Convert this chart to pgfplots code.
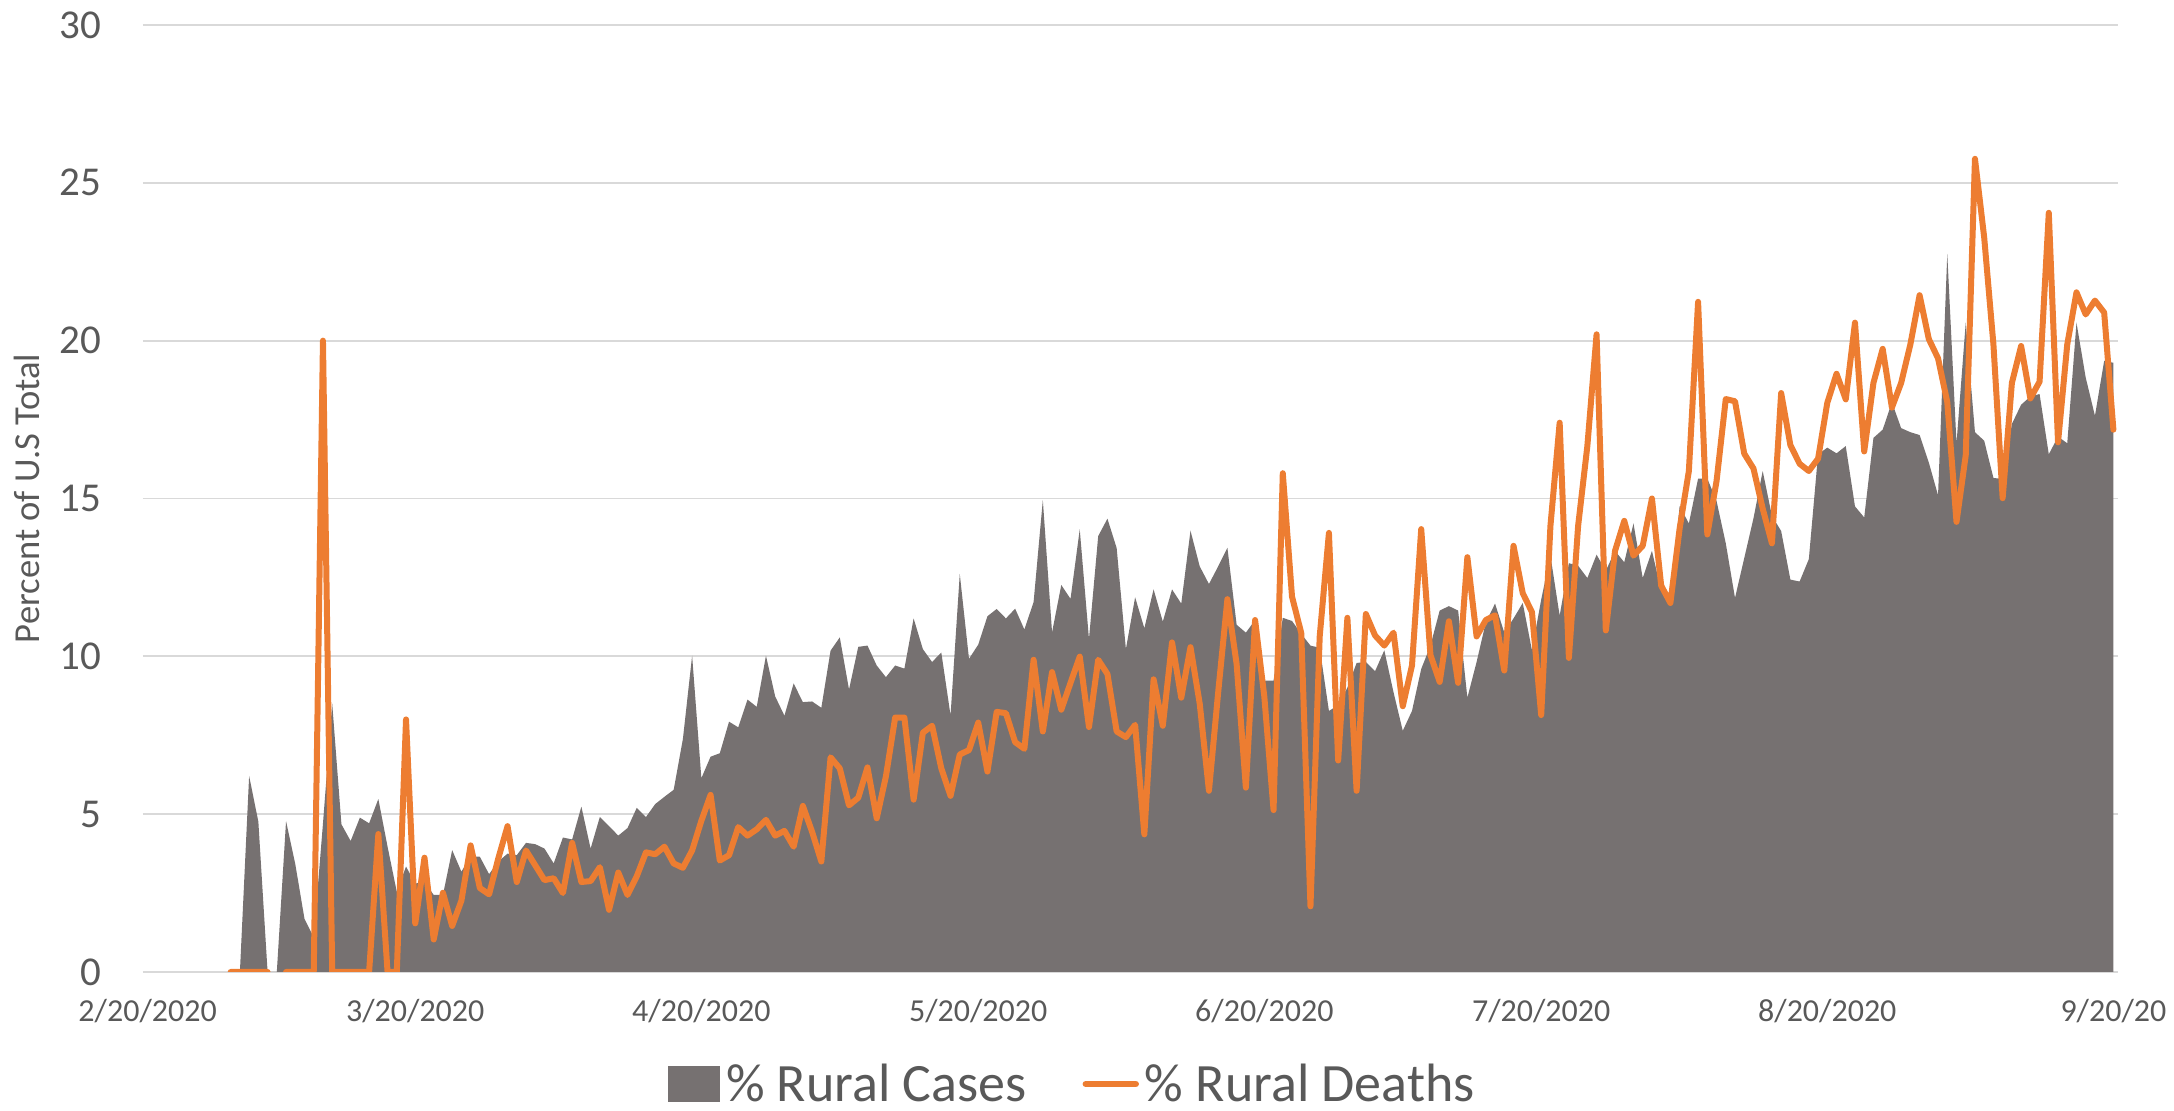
\documentclass[border=0pt]{standalone}
\usepackage{fontspec}
\setmainfont{Carlito}
\usepackage{pgfplots}
\pgfplotsset{compat=1.18}
\usetikzlibrary{calc}
\definecolor{areagray}{HTML}{767171}
\definecolor{deathorange}{HTML}{ED7D31}
\definecolor{gridgray}{HTML}{D9D9D9}
\definecolor{txtgray}{HTML}{595959}
\begin{document}
\begin{tikzpicture}
\begin{axis}[
 name=ax,
 scale only axis,
 width=987.5pt, height=473.5pt,
 xmin=-0.5, xmax=213.5, ymin=0, ymax=30,
 xtick={0,29,60,90,121,151,182,213},
 xticklabels={2/20/2020,3/20/2020,4/20/2020,5/20/2020,6/20/2020,7/20/2020,8/20/2020,9/20/20},
 ytick={0,5,...,30},
 ymajorgrids, grid style={gridgray, line width=0.9pt},
 axis line style={draw=none},
 major tick length=0pt,
 tick label style={text=txtgray},
 xticklabel style={font=\fontsize{16}{18}\selectfont, yshift=-10pt},
 yticklabel style={font=\fontsize{20.5}{24}\selectfont, xshift=-17.5pt},
 /pgf/number format/assume math mode=true,
 ylabel={Percent of U.S Total},
 every axis y label/.style={at={(axis description cs:0,0.5)}, rotate=90, anchor=center, yshift=58pt, font=\fontsize{18.3}{20}\selectfont, text=txtgray},
 unbounded coords=jump,
 legend columns=2,
 legend style={draw=none, fill=none, at={(axis description cs:0.4716,0)}, anchor=center, yshift=-56pt, font=\fontsize{27}{30}\selectfont, text=txtgray, nodes={inner sep=1pt, inner xsep=3pt}, /tikz/every even column/.append style={column sep=25pt}},
]
\addplot[fill=areagray, draw=none, legend image code/.code={\fill[areagray] (0pt,-9pt) rectangle (26pt,9pt);}] table {
x y
10 0
11 6.21
12 4.76
13 0
14 0
15 4.78
16 3.42
17 1.68
18 1.10
19 4.7
20 8.51
21 4.68
22 4.15
23 4.89
24 4.71
25 5.48
26 3.97
27 2.54
28 3.34
29 2.80
30 2.86
31 2.44
32 2.44
33 3.86
34 3.18
35 3.67
36 3.65
37 3.10
38 3.50
39 3.75
40 3.70
41 4.09
42 4.05
43 3.91
44 3.44
45 4.26
46 4.20
47 5.24
48 3.91
49 4.91
50 4.62
51 4.32
52 4.56
53 5.20
54 4.91
55 5.32
56 5.55
57 5.77
58 7.38
59 10.02
60 6.14
61 6.82
62 6.93
63 7.93
64 7.75
65 8.63
66 8.40
67 10.02
68 8.73
69 8.12
70 9.14
71 8.55
72 8.57
73 8.37
74 10.18
75 10.60
76 8.95
77 10.30
78 10.34
79 9.71
80 9.34
81 9.71
82 9.61
83 11.20
84 10.23
85 9.82
86 10.12
87 8.13
88 12.61
89 9.92
90 10.37
91 11.27
92 11.50
93 11.20
94 11.51
95 10.85
96 11.72
97 14.95
98 10.76
99 12.26
100 11.82
101 14.02
102 10.55
103 13.81
104 14.36
105 13.43
106 10.23
107 11.87
108 10.89
109 12.12
110 11.10
111 12.12
112 11.67
113 13.98
114 12.85
115 12.29
116 12.85
117 13.44
118 11.00
119 10.75
120 11.15
121 9.23
122 9.23
123 11.22
124 11.12
125 10.71
126 10.34
127 10.27
128 8.27
129 8.45
130 9.01
131 9.79
132 9.82
133 9.53
134 10.19
135 8.86
136 7.64
137 8.27
138 9.60
139 10.34
140 11.45
141 11.59
142 11.45
143 8.69
144 9.82
145 11.08
146 11.67
147 10.75
148 11.20
149 11.69
150 10.19
151 11.80
152 13.19
153 11.29
154 12.95
155 12.87
156 12.48
157 13.22
158 12.71
159 13.34
160 12.98
161 14.21
162 12.48
163 13.34
164 12.08
165 11.77
166 14.76
167 14.21
168 15.63
169 15.63
170 14.92
171 13.58
172 11.85
173 13.11
174 14.37
175 15.87
176 14.45
177 13.97
178 12.43
179 12.37
180 13.08
181 16.40
182 16.61
183 16.43
184 16.66
185 14.75
186 14.40
187 16.92
188 17.18
189 18.05
190 17.23
191 17.10
192 17.01
193 16.14
194 15.10
195 22.75
196 16.75
197 20.57
198 17.10
199 16.83
200 15.65
201 15.62
202 17.36
203 17.97
204 18.23
205 18.31
206 16.40
207 16.96
208 16.75
209 20.57
210 18.83
211 17.62
212 19.36
213 19.30
} \closedcycle;
\addlegendentry{\% Rural Cases}
\addplot[deathorange, line width=3pt, line join=round, line cap=round, legend image code/.code={\draw[deathorange, line width=3.2pt] (0pt,0pt) -- (25pt,0pt);}] table {
x y
9 0
10 0
11 0
12 0
13 0
14 nan
15 0
16 0
17 0
18 0
19 20.0
20 0
21 0
22 0
23 0
24 0
25 4.37
26 0
27 0
28 8.0
29 1.54
30 3.62
31 1.03
32 2.51
33 1.46
34 2.26
35 4.01
36 2.66
37 2.46
38 3.6
39 4.62
40 2.85
41 3.85
42 3.38
43 2.91
44 2.97
45 2.50
46 4.09
47 2.85
48 2.88
49 3.32
50 1.97
51 3.15
52 2.44
53 3.03
54 3.79
55 3.73
56 3.97
57 3.44
58 3.30
59 3.85
60 4.79
61 5.61
62 3.53
63 3.70
64 4.59
65 4.32
66 4.52
67 4.82
68 4.32
69 4.47
70 3.97
71 5.26
72 4.44
73 3.50
74 6.80
75 6.45
76 5.28
77 5.52
78 6.48
79 4.87
80 6.20
81 8.06
82 8.06
83 5.46
84 7.58
85 7.80
86 6.45
87 5.58
88 6.89
89 7.03
90 7.90
91 6.35
92 8.24
93 8.20
94 7.28
95 7.07
96 9.89
97 7.62
98 9.50
99 8.31
100 9.16
101 9.99
102 7.76
103 9.89
104 9.44
105 7.62
106 7.44
107 7.83
108 4.36
109 9.27
110 7.80
111 10.44
112 8.69
113 10.29
114 8.50
115 5.74
116 8.86
117 11.81
118 9.75
119 5.84
120 11.15
121 8.72
122 5.13
123 15.80
124 11.89
125 10.74
126 2.08
127 10.63
128 13.91
129 6.70
130 11.22
131 5.74
132 11.34
133 10.66
134 10.34
135 10.75
136 8.42
137 9.71
138 14.03
139 10.04
140 9.19
141 11.11
142 9.16
143 13.14
144 10.63
145 11.15
146 11.30
147 9.55
148 13.50
149 12.00
150 11.40
151 8.14
152 14.13
153 17.40
154 9.95
155 14.13
156 16.66
157 20.20
158 10.82
159 13.34
160 14.29
161 13.19
162 13.50
163 15.00
164 12.24
165 11.69
166 14.05
167 15.87
168 21.23
169 13.86
170 15.55
171 18.15
172 18.08
173 16.42
174 15.95
175 14.68
176 13.58
177 18.34
178 16.69
179 16.10
180 15.87
181 16.26
182 18.03
183 18.95
184 18.14
185 20.57
186 16.49
187 18.66
188 19.74
189 17.88
190 18.66
191 19.88
192 21.44
193 20.05
194 19.44
195 18.05
196 14.26
197 16.37
198 25.76
199 23.27
200 19.88
201 15.01
202 18.66
203 19.83
204 18.17
205 18.70
206 24.05
207 16.78
208 19.88
209 21.53
210 20.83
211 21.27
212 20.89
213 17.18
};
\addlegendentry{\% Rural Deaths}
\end{axis}
\pgfresetboundingbox
\path[use as bounding box] ($(ax.south west)+(-71.5pt,-69.5pt)$) rectangle ($(ax.north east)+(28pt,12.5pt)$);
\end{tikzpicture}
\end{document}
